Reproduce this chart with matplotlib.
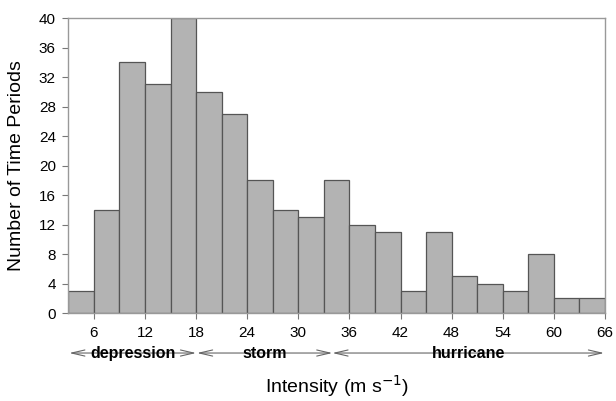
import matplotlib
matplotlib.use("Agg")
import matplotlib.pyplot as plt
import numpy as np

plt.rcParams['font.family'] = ['Liberation Sans', 'DejaVu Sans']

bin_edges = [3, 6, 9, 12, 15, 18, 21, 24, 27, 30, 33, 36, 39, 42, 45, 48, 51, 54, 57, 60, 63, 66]
counts = [3, 14, 34, 31, 40, 30, 27, 18, 14, 13, 18, 12, 11, 3, 11, 5, 4, 3, 8, 2, 2]
x_ticks = [6, 12, 18, 24, 30, 36, 42, 48, 54, 60, 66]
y_ticks = [0, 4, 8, 12, 16, 20, 24, 28, 32, 36, 40]
categories = ["depression", "storm", "hurricane"]
category_ranges = [(3.1, 18.0), (18.1, 34.0), (34.0, 65.9)]

fig = plt.figure(figsize=(6.16, 4.01), dpi=100)
ax = fig.add_axes([0.111, 0.219, 0.871, 0.736])

edges = np.array(bin_edges)
ax.bar(edges[:-1], counts, width=np.diff(edges), align='edge',
       color='#b3b3b3', edgecolor='#555555', linewidth=0.9, zorder=2)

ax.set_xlim(3, 66)
ax.set_ylim(0, 40)
ax.set_xticks(x_ticks)
ax.set_yticks(y_ticks)
ax.tick_params(axis='both', labelsize=11, color='#777777', length=4, width=0.8)
ax.tick_params(axis='x', pad=5.5)
ax.tick_params(axis='y', pad=5)
for s in ax.spines.values():
    s.set_color('#999999')
    s.set_linewidth(1.0)

ax.set_ylabel("Number of Time Periods", fontsize=14, ha='center', va='center')
ax.yaxis.set_label_coords(-0.096, 0.5)
ax.set_xlabel("Intensity (m s$^{-1}$)", fontsize=14, ha='center', va='center')
ax.xaxis.set_label_coords(0.5, -0.248)

trans = ax.get_xaxis_transform()
ypos = -0.135
for name, (x0, x1) in zip(categories, category_ranges):
    ax.annotate("", xy=(x0, ypos), xytext=(x1, ypos), xycoords=trans, textcoords=trans,
                arrowprops=dict(arrowstyle='<->,head_length=0.95,head_width=0.22',
                                color='#666666', lw=0.8, shrinkA=0, shrinkB=0),
                annotation_clip=False)
    ax.text((x0 + x1) / 2, ypos, name, transform=trans, ha='center', va='center',
            fontsize=11.5, fontweight='bold', clip_on=False)

fig.savefig("out.png", dpi=100)
